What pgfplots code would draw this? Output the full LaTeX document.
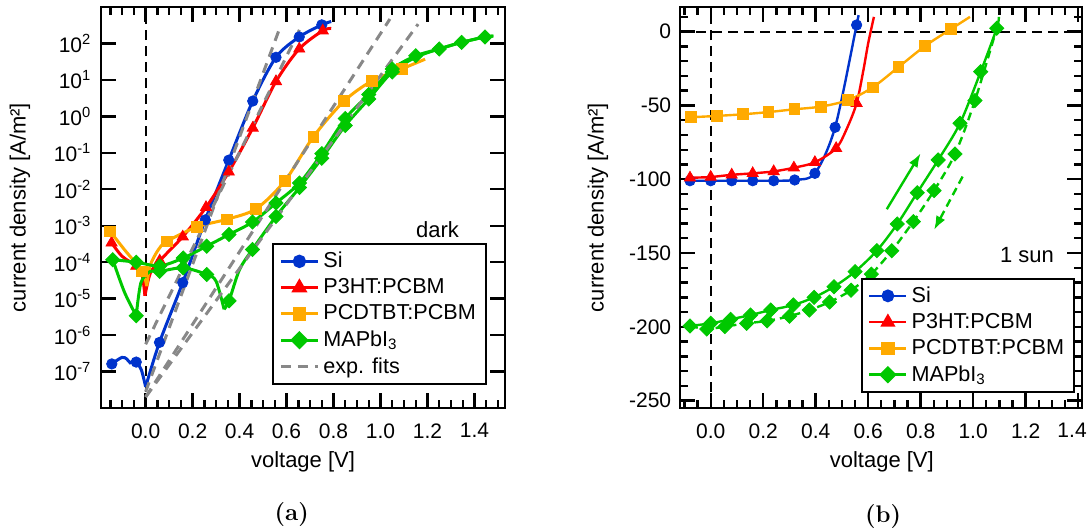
\documentclass[border=0pt]{standalone}
\usepackage{fontspec}
\setsansfont{Liberation Sans}
\usepackage{pgfplots}
\pgfplotsset{compat=1.18}
\usetikzlibrary{arrows.meta}
\definecolor{cblue}{RGB}{0,51,204}
\definecolor{cred}{RGB}{255,0,0}
\definecolor{corange}{RGB}{255,170,0}
\definecolor{cgreen}{RGB}{0,200,0}
\definecolor{cgray}{RGB}{136,136,136}
\pgfplotsset{
  mystyle/.style={
    scale only axis,
    axis line style={line width=1.2pt},
    every tick/.style={black, line width=1.2pt},
    major tick length=7.5pt, minor tick length=4pt,
    tick align=inside, tick pos=both,
    tick label style={font=\sffamily\fontsize{10.5}{13}\selectfont},
    xticklabel style={yshift=-4.2pt},
    label style={font=\sffamily\fontsize{11}{13}\selectfont},
    xtick={0,0.2,0.4,0.6,0.8,1.0,1.2,1.4},
    xlabel={voltage [V]},
    ylabel={current density [A/m²]},
    legend style={draw=black, line width=1pt, fill=white,
      font=\sffamily\fontsize{10.8}{13}\selectfont, legend cell align=left},
    legend image code/.code={\draw[mark repeat=2,mark phase=2] plot coordinates {(0pt,0pt)(9.25pt,0pt)(18.5pt,0pt)};},
  },
  ln/.style={line width=1.5pt, smooth, forget plot},
  mk/.style={only marks, forget plot},
  msi/.style={mark=*, mark size=2.6pt},
  mp3/.style={mark=triangle*, mark size=3.2pt},
  mpc/.style={mark=square*, mark size=2.7pt},
  mma/.style={mark=square*, mark size=2.5pt, mark options={rotate=45, solid}},
}
\begin{document}
\begin{tikzpicture}
\useasboundingbox (0,0) rectangle (545pt,265.5pt);
% ---------------- (a) dark ----------------
\begin{axis}[mystyle, at={(50.5pt,61.5pt)}, anchor=south west,
  width=202pt, height=200.5pt,
  ymode=log, xmin=-0.19, xmax=1.53, ymin=1e-8, ymax=1e3,
  xticklabels={0.0,0.2,0.4,0.6,0.8,1.0,1.2,1.4},
  minor xtick={-0.15,-0.1,-0.05,0,0.05,0.1,0.15,0.2,0.25,0.3,0.35,0.4,0.45,0.5,0.55,0.6,0.65,0.7,0.75,0.8,0.85,0.9,0.95,1.0,1.05,1.1,1.15,1.2,1.25,1.3,1.35,1.4,1.45,1.5},
  ytick={1e-7,1e-6,1e-5,1e-4,1e-3,1e-2,1e-1,1,10,100},
  yticklabels={10\textsuperscript{-7},10\textsuperscript{-6},10\textsuperscript{-5},10\textsuperscript{-4},10\textsuperscript{-3},10\textsuperscript{-2},10\textsuperscript{-1},10\textsuperscript{0},10\textsuperscript{1},10\textsuperscript{2}},
  yminorticks=false,
  yticklabel style={xshift=-1.3pt},
  xlabel style={at={(axis description cs:0.5,-0.1347)}, anchor=center},
  ylabel style={at={(axis description cs:-0.2005,0.5)}, anchor=center},
  legend style={at={(axis description cs:0.955,0.057)}, anchor=south east},
]
\addplot[black, line width=1pt, dash pattern=on 5pt off 3pt, forget plot] coordinates {(0,1e-8)(0,1e3)};
% Si
\addplot[cblue, ln] coordinates {(-0.144,1.62e-7)(-0.101,2.45e-7)(-0.08,2.2e-7)(-0.066,1.74e-7)(-0.052,2e-7)(-0.04,1.82e-7)(-0.018,1.1e-7)(0,3.8e-8)};
\addplot[cblue, ln] coordinates {(0,3.8e-8)(0.059,6.3e-7)(0.158,2.75e-5)(0.254,1.45e-3)(0.354,6.3e-2)(0.456,2.63)(0.555,41.7)(0.654,151)(0.75,324)(0.79,400)};
\addplot[cblue, mk, msi] coordinates {(-0.144,1.62e-7)(-0.04,1.82e-7)(0.059,6.3e-7)(0.158,2.75e-5)(0.254,1.45e-3)(0.354,6.3e-2)(0.456,2.63)(0.555,41.7)(0.654,151)(0.75,324)};
% P3HT:PCBM
\addplot[cred, ln] coordinates {(-0.145,3.4e-4)(-0.1,1.45e-4)(-0.04,7.8e-5)(-0.015,4.5e-5)(-0.003,1.2e-5)};
\addplot[cred, ln] coordinates {(-0.003,1.2e-5)(0.02,5e-5)(0.06,1.1e-4)(0.158,5e-4)(0.257,3.2e-3)(0.354,3.0e-2)(0.456,0.48)(0.555,9.1)(0.654,71)(0.754,224)(0.79,257)};
\addplot[cred, mk, mp3] coordinates {(-0.145,3.4e-4)(-0.04,7.8e-5)(0.06,1.1e-4)(0.158,5e-4)(0.257,3.2e-3)(0.354,3.0e-2)(0.456,0.48)(0.555,9.1)(0.654,71)(0.754,224)};
% PCDTBT:PCBM
\addplot[corange, ln] coordinates {(-0.151,7e-4)(-0.09,2.2e-4)(-0.015,5.6e-5)(0.005,2.2e-5)};
\addplot[corange, ln] coordinates {(0.005,2.2e-5)(0.019,8e-5)(0.054,2.2e-4)(0.09,3.7e-4)(0.218,9.3e-4)(0.345,1.5e-3)(0.47,2.9e-3)(0.594,1.74e-2)(0.714,0.275)(0.845,2.63)(0.965,9.5)(1.09,20)(1.19,37)};
\addplot[corange, mk, mpc] coordinates {(-0.151,7e-4)(-0.015,5.6e-5)(0.09,3.7e-4)(0.218,9.3e-4)(0.345,1.5e-3)(0.47,2.9e-3)(0.594,1.74e-2)(0.714,0.275)(0.845,2.63)(0.965,9.5)(1.09,20)};
% MAPbI3 upper
\addplot[cgreen, ln] coordinates {(-0.14,1.17e-4)(-0.04,1e-4)(0.06,7.9e-5)(0.16,1.3e-4)(0.26,2.75e-4)(0.355,5.75e-4)(0.455,1.26e-3)(0.555,4.2e-3)(0.655,1.48e-2)(0.75,9.5e-2)(0.85,0.87)(0.95,4.0)(1.05,20)(1.15,45.7)(1.25,70.8)(1.345,107)(1.445,151)(1.48,158)};
\addplot[cgreen, mk, mma] coordinates {(-0.14,1.17e-4)(-0.04,1e-4)(0.06,7.9e-5)(0.16,1.3e-4)(0.26,2.75e-4)(0.355,5.75e-4)(0.455,1.26e-3)(0.555,4.2e-3)(0.655,1.48e-2)(0.75,9.5e-2)(0.85,0.87)(0.95,4.0)(1.05,20)(1.15,45.7)(1.25,70.8)(1.345,107)(1.445,151)};
% MAPbI3 lower
\addplot[cgreen, ln] coordinates {(-0.14,1.17e-4)(-0.09,1.5e-5)(-0.04,3.4e-6)};
\addplot[cgreen, ln] coordinates {(-0.04,3.4e-6)(-0.02,2.75e-5)(0.02,5.6e-5)(0.06,5.6e-5)(0.16,7e-5)(0.26,4.6e-5)(0.3,3e-5)(0.334,5.1e-6)};
\addplot[cgreen, ln] coordinates {(0.334,5.1e-6)(0.355,8.7e-6)(0.40,6.3e-5)(0.455,2.24e-4)(0.555,1.8e-3)(0.655,1.12e-2)(0.75,7.1e-2)(0.85,0.56)(0.95,3.0)(1.05,16.6)(1.15,41.7)(1.25,70.8)(1.345,107)(1.445,151)(1.48,158)};
\addplot[cgreen, mk, mma] coordinates {(-0.04,3.4e-6)(0.06,5.6e-5)(0.16,7e-5)(0.26,4.6e-5)(0.355,8.7e-6)(0.455,2.24e-4)(0.555,1.8e-3)(0.655,1.12e-2)(0.75,7.1e-2)(0.85,0.56)(0.95,3.0)(1.05,16.6)};
% exp fits
\addplot[cgray, line width=1.5pt, dash pattern=on 5pt off 3.5pt, forget plot] coordinates {(0,2.8e-8)(0.572,275)};
\addplot[cgray, line width=1.5pt, dash pattern=on 5pt off 3.5pt, forget plot] coordinates {(0,5.6e-7)(0.657,251)};
\addplot[cgray, line width=1.5pt, dash pattern=on 5pt off 3.5pt, forget plot] coordinates {(0,2e-8)(1.04,468)};
\addplot[cgray, line width=1.5pt, dash pattern=on 5pt off 3.5pt, forget plot] coordinates {(0,2e-8)(1.16,339)};
\node[font=\sffamily\fontsize{11}{13}\selectfont] at (axis cs:1.243,7.6e-4) {dark};
\addlegendimage{cblue, line width=1.5pt, msi}\addlegendentry{Si}
\addlegendimage{cred, line width=1.5pt, mp3}\addlegendentry{P3HT:PCBM}
\addlegendimage{corange, line width=1.5pt, mpc}\addlegendentry{PCDTBT:PCBM}
\addlegendimage{cgreen, line width=1.5pt, mma}\addlegendentry{MAPbI\textsubscript{3}}
\addlegendimage{cgray, line width=1.5pt, dash pattern=on 5pt off 3.5pt}\addlegendentry{exp. fits}
\end{axis}
% ---------------- (b) 1 sun ----------------
\begin{axis}[mystyle, at={(340pt,61.5pt)}, anchor=south west,
  width=201pt, height=200.5pt,
  xmin=-0.117, xmax=1.415, ymin=-255, ymax=16.7,
  xticklabels={0.0,0.2,0.4,0.6,0.8,1.0,1.2,\makebox[0pt]{1.4\kern6pt}},
  minor xtick={-0.1,-0.05,0,0.05,0.1,0.15,0.2,0.25,0.3,0.35,0.4,0.45,0.5,0.55,0.6,0.65,0.7,0.75,0.8,0.85,0.9,0.95,1.0,1.05,1.1,1.15,1.2,1.25,1.3,1.35,1.4},
  ytick={-250,-200,-150,-100,-50,0},
  yticklabels={-250,-200,-150,-100,-50,0},
  minor ytick={-250,-240,-230,-220,-210,-200,-190,-180,-170,-160,-150,-140,-130,-120,-110,-100,-90,-80,-70,-60,-50,-40,-30,-20,-10,0,10},
  yticklabel style={xshift=-0.9pt},
  xlabel style={at={(axis description cs:0.502,-0.1347)}, anchor=center},
  ylabel style={at={(axis description cs:-0.204,0.5)}, anchor=center},
  legend style={at={(axis description cs:0.9826,0.0374)}, anchor=south east},
]
\addplot[black, line width=1pt, dash pattern=on 5pt off 3pt, forget plot] coordinates {(0,-255)(0,16.7)};
\addplot[black, line width=1pt, dash pattern=on 5pt off 3pt, forget plot] coordinates {(-0.117,0)(1.415,0)};
% Si
\addplot[cblue, ln, line width=1.2pt] coordinates {(-0.079,-101)(0,-101)(0.08,-101)(0.16,-101)(0.24,-101)(0.32,-100.5)(0.397,-96)(0.474,-64.8)(0.556,4.5)(0.562,10)};
\addplot[cblue, mk, msi] coordinates {(-0.079,-101)(0,-101)(0.08,-101)(0.16,-101)(0.24,-101)(0.32,-100.5)(0.397,-96)(0.474,-64.8)(0.556,4.5)};
% P3HT
\addplot[cred, ln, line width=1.2pt] coordinates {(-0.079,-99)(0,-98.5)(0.08,-97)(0.16,-96)(0.24,-94.7)(0.317,-92.2)(0.397,-88.5)(0.478,-79)(0.518,-66)(0.556,-48.5)(0.582,-26)(0.60,-8)(0.622,10)};
\addplot[cred, mk, mp3] coordinates {(-0.079,-99)(0,-98.5)(0.08,-97)(0.16,-96)(0.24,-94.7)(0.317,-92.2)(0.397,-88.5)(0.478,-79)(0.556,-48.5)};
% PCDTBT
\addplot[corange, ln, line width=1.2pt] coordinates {(-0.075,-58)(0.023,-57.1)(0.122,-56)(0.22,-54.5)(0.319,-52.6)(0.419,-50.8)(0.522,-46.5)(0.617,-37.8)(0.715,-24.1)(0.817,-9.7)(0.916,1.8)(0.988,10)};
\addplot[corange, mk, mpc] coordinates {(-0.075,-58)(0.023,-57.1)(0.122,-56)(0.22,-54.5)(0.319,-52.6)(0.419,-50.8)(0.522,-46.5)(0.617,-37.8)(0.715,-24.1)(0.817,-9.7)(0.916,1.8)};
% MAPbI3 forward (solid)
\addplot[cgreen, ln, line width=1.2pt] coordinates {(-0.079,-199.4)(0,-197.6)(0.076,-194.9)(0.152,-192)(0.229,-188.6)(0.315,-185.2)(0.394,-180)(0.47,-172.8)(0.55,-162.6)(0.633,-148.4)(0.711,-130.3)(0.787,-109.1)(0.867,-86.9)(0.95,-62.1)(1.029,-27.1)(1.09,2.3)(1.098,10)};
\addplot[cgreen, mk, mma] coordinates {(-0.079,-199.4)(0,-197.6)(0.076,-194.9)(0.152,-192)(0.229,-188.6)(0.315,-185.2)(0.394,-180)(0.47,-172.8)(0.55,-162.6)(0.633,-148.4)(0.711,-130.3)(0.787,-109.1)(0.867,-86.9)(0.95,-62.1)(1.029,-27.1)(1.09,2.3)};
% MAPbI3 reverse (dashed)
\addplot[cgreen, ln, line width=1.2pt, dash pattern=on 4pt off 2.5pt] coordinates {(-0.079,-199.4)(-0.015,-201.5)(0.054,-199.8)(0.137,-197.6)(0.215,-196)(0.3,-192.8)(0.376,-188.6)(0.453,-183.2)(0.535,-175.2)(0.612,-164.3)(0.69,-148.4)(0.772,-128.7)(0.851,-107.7)(0.931,-82.9)(1.007,-46.7)(1.09,2.3)};
\addplot[cgreen, mk, mma] coordinates {(-0.015,-201.5)(0.054,-199.8)(0.137,-197.6)(0.215,-196)(0.3,-192.8)(0.376,-188.6)(0.453,-183.2)(0.535,-175.2)(0.612,-164.3)(0.69,-148.4)(0.772,-128.7)(0.851,-107.7)(0.931,-82.9)(1.007,-46.7)};
\draw[cgreen, line width=1.2pt, -{Latex[length=7pt,width=5pt]}] (axis cs:0.671,-120.3) -- (axis cs:0.8,-82.4);
\draw[cgreen, line width=1.2pt, dash pattern=on 4pt off 2.5pt, -{Latex[length=7pt,width=5pt]}] (axis cs:0.96,-98.2) -- (axis cs:0.851,-134.4);
\node[font=\sffamily\fontsize{11}{13}\selectfont] at (axis cs:1.205,-151.3) {1 sun};
\addlegendimage{cblue, line width=1.2pt, msi}\addlegendentry{Si}
\addlegendimage{cred, line width=1.2pt, mp3}\addlegendentry{P3HT:PCBM}
\addlegendimage{corange, line width=1.2pt, mpc}\addlegendentry{PCDTBT:PCBM}
\addlegendimage{cgreen, line width=1.2pt, mma}\addlegendentry{MAPbI\textsubscript{3}}
\end{axis}
\node[font=\fontsize{12}{14}\selectfont\bfseries] at (145.85pt,8pt) {(a)};
\node[font=\fontsize{12}{14}\selectfont\bfseries] at (441.5pt,7.15pt) {(b)};
\end{tikzpicture}
\end{document}
